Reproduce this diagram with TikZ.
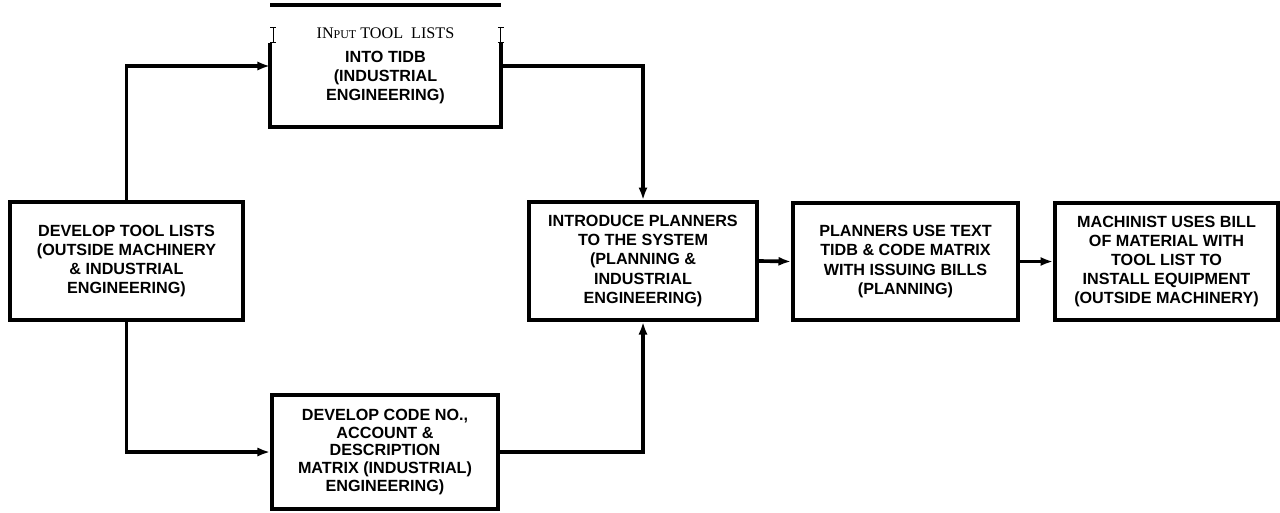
\documentclass[tikz,border=0pt]{standalone}
\usepackage{fontspec}
\setmainfont{Liberation Sans}
\newfontfamily\serifA{Liberation Serif}
\usepackage{tikz}
\usetikzlibrary{arrows.meta, calc, positioning}
\tikzstyle{process} = [rectangle, minimum width=5.7cm, minimum height=2.95cm, text centered, align=center, draw=black, line width=2.6pt, font=\bfseries\fontsize{11.5}{13.6}\selectfont]
\tikzstyle{arrow} = [line width=2.6pt,-{Latex[length=9pt,width=6.5pt]}]
\tikzstyle{edge} = [line width=2.6pt]

\begin{document}
\begin{tikzpicture}[x=0.025cm, y=-0.025cm]
    \useasboundingbox (0,0) rectangle (1280,512);

    % Develop tool lists
    \node[process, minimum width=5.825cm] (devlists) at (126.5,261) {DEVELOP TOOL LISTS\\(OUTSIDE MACHINERY\\\& INDUSTRIAL\\ENGINEERING)};

    % Input tool lists (top edge of box broken in the original)
    \node[process, draw=none, minimum width=5.675cm] (input) at (385.5,66) {{\serifA\mdseries IN{\fontsize{8.5}{10}\selectfont PUT} TOOL\ \ LISTS}\\[3pt]INTO TIDB\\(INDUSTRIAL\\ENGINEERING)};
    \draw[edge] ($(input.north west)+(0,38)$) -- (input.south west) -- (input.south east) -- ($(input.north east)+(0,38)$);
    \draw[line width=3pt] (input.north west) -- (input.north east);
    \foreach \c/\dx in {north west/3, north east/0}
        \draw[line width=0.9pt] ($(input.\c)+(\dx-3,22)$) -- ++(6,0) ++(-3,0) -- ++(0,15) ++(-3,0) -- ++(6,0);

    % Develop code no.
    \node[process, minimum width=5.65cm, minimum height=2.85cm, font=\bfseries\fontsize{11.5}{12.6}\selectfont] (codeno) at (385,452) {DEVELOP CODE NO.,\\ACCOUNT \&\\DESCRIPTION\\MATRIX (INDUSTRIAL)\\ENGINEERING)};

    % Introduce planners
    \node[process] (planners) at (643,261) {INTRODUCE PLANNERS\\TO THE SYSTEM\\(PLANNING \&\\INDUSTRIAL\\ENGINEERING)};

    % Planners use text
    \node[process, minimum width=5.625cm, minimum height=2.925cm] (usetext) at (905.5,261.5) {PLANNERS USE TEXT\\TIDB \& CODE MATRIX\\WITH ISSUING BILLS\\(PLANNING)};

    % Machinist
    \node[process, minimum width=5.575cm, minimum height=2.925cm] (machinist) at (1166.5,261.5) {MACHINIST USES BILL\\OF MATERIAL WITH\\TOOL LIST TO\\INSTALL EQUIPMENT\\(OUTSIDE MACHINERY)};

    % Connectors
    \draw[arrow] (devlists.north) |- (input.west);
    \draw[arrow] (devlists.south) |- (codeno.west);
    \draw[arrow] (input.east) -| (planners.north);
    \draw[arrow] (codeno.east) -| (planners.south);
    \draw[arrow] (planners.east) -- (usetext.west);
    \draw[arrow] (usetext.east) -- (machinist.west);
\end{tikzpicture}
\end{document}
